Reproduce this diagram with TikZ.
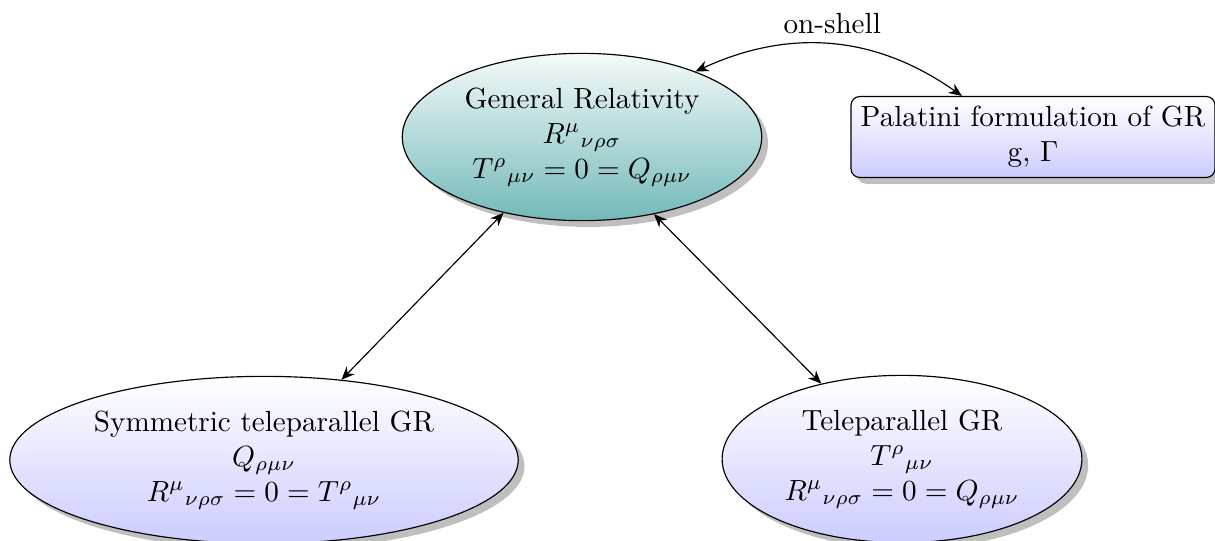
\documentclass[tikz,border=0pt]{standalone}
\usepackage{amsmath}
\usetikzlibrary{arrows.meta,shapes.geometric,shadows}

\begin{document}
\begin{tikzpicture}[x=0.343pt, y=-0.343pt,
    theory/.style={ellipse, draw, align=center, drop shadow,
                   top color=white, bottom color=blue!20},
    grtheory/.style={theory, top color=teal!4, bottom color=teal!55},
    palbox/.style={rectangle, rounded corners=3pt, draw, align=center,
                   drop shadow, top color=white, bottom color=blue!20},
    link/.style={{Stealth[length=4.5pt,width=3.8pt]}-{Stealth[length=4.5pt,width=3.8pt]}}]

  %% ════ 理论 ════
  \node[grtheory] (gr) at (582,137)
    {General Relativity\\ $R^{\mu}{}_{\nu\rho\sigma}$\\ $T^{\rho}{}_{\mu\nu}=0=Q_{\rho\mu\nu}$};
  \node[palbox] (pal) at (1033,137)
    {Palatini formulation of GR\\ g, $\Gamma$};
  \node[theory] (stgr) at (264,460)
    {Symmetric teleparallel GR\\ $Q_{\rho\mu\nu}$\\ $R^{\mu}{}_{\nu\rho\sigma}=0=T^{\rho}{}_{\mu\nu}$};
  \node[theory] (tgr) at (902,459)
    {Teleparallel GR\\ $T^{\rho}{}_{\mu\nu}$\\ $R^{\mu}{}_{\nu\rho\sigma}=0=Q_{\rho\mu\nu}$};

  %% ════ 箭头 ════
  \draw[link] (gr.30) to[bend left=30] node[above] (onshell) {on-shell} (pal.150);
  \draw[link] (gr.224) -- (stgr.46);
  \draw[link] (gr.313) -- (tgr.137);

  % 钉死画布：两只下方椭圆本来就被裁掉一截
  \pgfresetboundingbox
  \path[use as bounding box] (0,0) rectangle (1215,541);
\end{tikzpicture}
\end{document}
